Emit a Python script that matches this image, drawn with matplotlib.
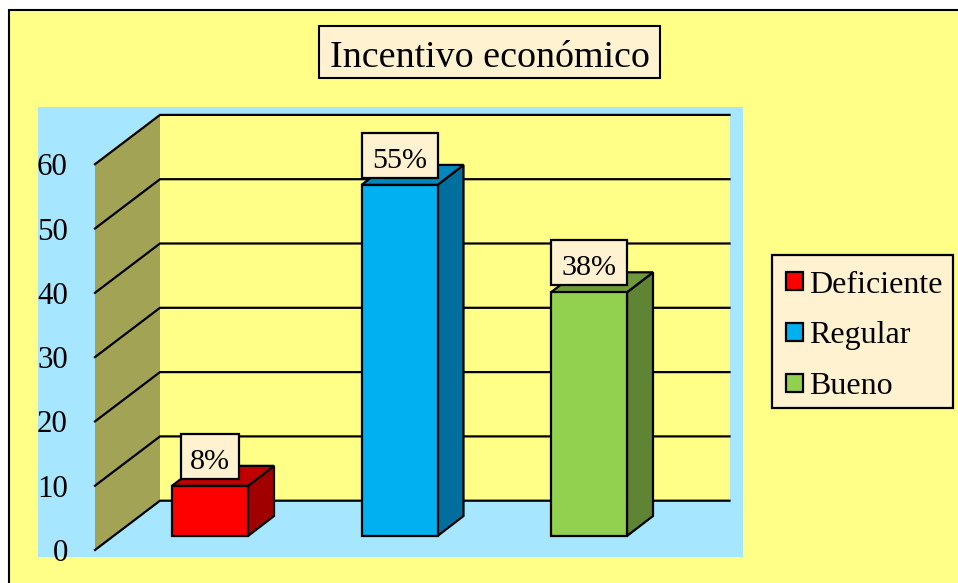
import matplotlib
matplotlib.use('Agg')
import matplotlib.pyplot as plt
from matplotlib.patches import Patch, Polygon, Rectangle

plt.rcParams['font.family'] = ['Liberation Serif', 'DejaVu Serif']

title = 'Incentivo económico'
categories = ['Deficiente', 'Regular', 'Bueno']
bar_values = [7.8, 54.6, 37.9]
bar_labels = ['8%', '55%', '38%']
y_ticks = [0, 10, 20, 30, 40, 50, 60]

front_colors = ['#FF0000', '#00B0F0', '#92D050']
side_colors = ['#A00000', '#006F9E', '#5F8534']
top_colors = ['#C00000', '#0088BE', '#6E9A3C']

BG = '#FFFF88'
SKY = '#A6E7FF'
WALL = '#A3A355'
CREAM = '#FFF2D0'

W, H = 958, 583
PX_PER_UNIT = 6.43    # value axis
PX_PER_CAT = 189.5    # category spacing

def px(v):
    return v * 72 / 100

def fig_box(x0, y0, x1, y1, **kw):
    # rectangle given in image pixels, y going down
    r = Rectangle((x0 / W, 1 - y1 / H), (x1 - x0) / W, (y1 - y0) / H, transform=fig.transFigure, **kw)
    fig.add_artist(r)
    return r

fig = plt.figure(figsize=(W / 100, H / 100), dpi=100, facecolor='white')

# outer chart frame, runs off the right and bottom of the image
fig_box(9, 10, W + 20, H + 20, facecolor=BG, edgecolor='black', linewidth=1.5, zorder=-1)

# blue plot area, in pixels
left, right, top, bottom = 38, 743, 107, 557
ax = fig.add_axes([left / W, 1 - bottom / H, (right - left) / W, (bottom - top) / H])
ax.set_facecolor(SKY)
ax.set_xlim((left - 210) / PX_PER_CAT, (right - 210) / PX_PER_CAT)
ax.set_ylim((550 - bottom) / PX_PER_UNIT, (550 - top) / PX_PER_UNIT)
for s in ax.spines.values():
    s.set_visible(False)
ax.set_xticks([])
ax.set_yticks(y_ticks)
ax.tick_params(axis='y', length=0, pad=-px(30), labelsize=22.3)

# walls
x_front = (95 - 210) / PX_PER_CAT
x_back = (160 - 210) / PX_PER_CAT
x_end = (729.5 - 210) / PX_PER_CAT
wall_rise = 49.3 / PX_PER_UNIT
ymax = y_ticks[-1]
ax.add_patch(Polygon([(x_back, wall_rise), (x_end, wall_rise), (x_end, ymax + wall_rise), (x_back, ymax + wall_rise)],
                     facecolor=BG, edgecolor='none', zorder=1))
ax.add_patch(Polygon([(x_front, 0), (x_back, wall_rise), (x_back, ymax + wall_rise), (x_front, ymax)],
                     facecolor=WALL, edgecolor='none', zorder=1))
for t in y_ticks:
    ax.plot([x_front, x_back, x_end], [t, t + wall_rise, t + wall_rise], color='black', lw=1.6,
            solid_joinstyle='miter', zorder=2)

# bars
bar_width = 76 / PX_PER_CAT
depth_x = 26 / PX_PER_CAT
depth_y = 20 / PX_PER_UNIT
base = 14 / PX_PER_UNIT
positions = list(range(len(categories)))
for i, v in enumerate(bar_values):
    x0 = positions[i] - bar_width / 2
    x1 = positions[i] + bar_width / 2
    y0 = base
    y1 = base + v
    ax.add_patch(Polygon([(x1, y0), (x1 + depth_x, y0 + depth_y), (x1 + depth_x, y1 + depth_y), (x1, y1)],
                         facecolor=side_colors[i], edgecolor='black', lw=1.6, zorder=3))
    ax.add_patch(Polygon([(x0, y1), (x0 + depth_x, y1 + depth_y), (x1 + depth_x, y1 + depth_y), (x1, y1)],
                         facecolor=top_colors[i], edgecolor='black', lw=1.6, zorder=3))
    ax.bar(positions[i], v, width=bar_width, bottom=base, color=front_colors[i],
           edgecolor='black', lw=1.6, zorder=4)
    # label box sits 7px above the bar, 45px tall
    box_w = (76 if len(bar_labels[i]) > 2 else 58) / PX_PER_CAT
    ax.add_patch(Rectangle((positions[i] - box_w / 2, y1 + 7 / PX_PER_UNIT), box_w, 45 / PX_PER_UNIT,
                           facecolor=CREAM, edgecolor='black', lw=1.6, zorder=6))
    ax.annotate(bar_labels[i], (positions[i], y1), xytext=(0, px(17)), textcoords='offset points',
                ha='center', va='baseline', fontsize=21.7, zorder=7)

# title
fig_box(319, 26, 660, 78, facecolor=CREAM, edgecolor='black', linewidth=1.5, zorder=1)
fig.text(489.5 / W, 1 - 67 / H, title, ha='center', va='baseline', fontsize=27.4, zorder=2)

# legend, frame drawn apart so the rows can sit where they do in the picture
fig_box(772, 255, 953, 408, facecolor=CREAM, edgecolor='black', linewidth=1.6, zorder=1)
handles = [Patch(facecolor=c, edgecolor='black', lw=1.6) for c in front_colors]
leg = fig.legend(handles, categories, loc='upper left', bbox_to_anchor=(774 / W, 1 - 259 / H),
                 fontsize=23, frameon=False, handlelength=0.54, handleheight=0.5, handletextpad=0.2,
                 labelspacing=0.68, borderpad=0.36, borderaxespad=0)

fig.savefig('out.png', dpi=100)
